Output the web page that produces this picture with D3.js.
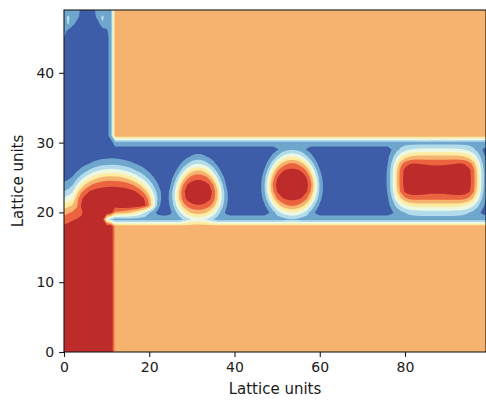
<!DOCTYPE html>
<html lang="en">
<head>
<meta charset="UTF-8">
<title>Droplet break-up at a T-junction</title>
<style>
  body { margin: 0; background: #fff; }
  svg { display: block; font-family: "DejaVu Sans", sans-serif; }
  .axis-label { font-size: 15px; fill: #1a1a1a; }
</style>
</head>
<body>
<svg width="486" height="403"></svg>
<script src="https://d3js.org/d3.v7.min.js"></script>
<script>
// lattice size and axes
const nx = 100, ny = 50;
const xTicks = [0, 20, 40, 60, 80];
const yTicks = [0, 10, 20, 30, 40];

// contour levels of the order parameter and the colour of each band (RdYlBu, red = dispersed phase)
const levels = [-1, -0.75, -0.5, -0.25, 0, 0.25, 0.5, 0.75, 1];
const bandColors = ["#3e5da8", "#6ea6cd", "#b2dceb", "#ecf8e3", "#feeca2", "#f5b36f", "#ec643f", "#bd2b2b"];

// channel geometry (lattice nodes)
const sideChannelWidth = 12;       // vertical channel = columns 0..11
const mainChannelRows = [19, 30];  // fluid rows of the horizontal channel
const wallValue = 0.4;
const filmValues = [-0.62, -0.85]; // first / second fluid layer next to a wall

// dispersed thread coming up the vertical channel: interface height at x = 0 and x = 11
const threadTop = [21.3, 24.5];
const threadWidth = 3.0;

// tongue being pinched off at the junction
const tongueCentre = [11, 21.2];
const tongueAxes = [9, 10, 4.5, 6, 1.6]; // left, right, top, bottom-left, bottom-right
const tongueWidth = [2.0, 0.8];          // interface width on top / under the tip

// released droplets
const dropX = [31.5, 53.5, 87.5];
const dropY = [22.9, 24.0, 24.7];
const dropA = [5.05, 5.5, 9.9];
const dropB = [3.6, 4.0, 4.2];
const dropPower = [2, 2, 3.5];
const dropWidth = [1.8, 1.7, 1.9];
const dropSkew = [0.12, 0.05, 0];
const dropWaist = [0, 0, 0.06];

// top inlet, rows y = 49 .. 45, columns x = 0 .. 11
const inletRows = [
  [-0.62, -0.64, -0.62, -0.62, -0.8, -0.95, -0.95, -0.8, -0.62, -0.64, -0.62, -0.62],
  [-0.58, -0.45, -0.6, -0.66, -0.85, -0.97, -0.97, -0.85, -0.64, -0.45, -0.58, -0.62],
  [-0.6, -0.48, -0.66, -0.85, -0.97, -1, -1, -0.97, -0.88, -0.52, -0.62, -0.62],
  [-0.66, -0.82, -0.97, -1, -1, -1, -1, -1, -1, -0.95, -0.8, -0.62],
  [-0.74, -0.92, -1, -1, -1, -1, -1, -1, -1, -1, -0.85, -0.62]
];
const cornerNodes = [[10, 19, -0.1], [11, 19, -0.45]];

const svg = d3.select("svg");
const margin = { left: 64, top: 10, right: 0, bottom: 51 };
const width = +svg.attr("width") - margin.left - margin.right;
const height = +svg.attr("height") - margin.top - margin.bottom;

const xScale = d3.scaleLinear().domain([0, nx - 1]).range([margin.left, margin.left + width]);
const yScale = d3.scaleLinear().domain([0, ny - 1]).range([margin.top + height, margin.top]);

// ---- field ----
const isSolid = (i, j) => i >= sideChannelWidth && (j < mainChannelRows[0] || j > mainChannelRows[1]);

function solidWithin(i, j, n) {
  for (let di = -n; di <= n; di++) {
    for (let dj = -n; dj <= n; dj++) {
      if (Math.abs(di) + Math.abs(dj) > n) continue;
      const a = i + di, b = j + dj;
      if (a < 0 || a >= nx || b < 0 || b >= ny) continue;
      if (isSolid(a, b)) return true;
    }
  }
  return false;
}

// approximate signed distance to a super-ellipse
function shapeDistance(dx, dy, a, b, p) {
  const u = Math.abs(dx) / a, v = Math.abs(dy) / b;
  const r = Math.pow(Math.pow(u, p) + Math.pow(v, p), 1 / p);
  if (r < 1e-6) return -Math.min(a, b);
  const k = Math.pow(r, 1 - p);
  const g = Math.hypot(k * Math.pow(u, p - 1) / a, k * Math.pow(v, p - 1) / b);
  return (r - 1) / g;
}

function dropPhase(k, x, y) {
  const dx = x - dropX[k], dy = y - dropY[k];
  const a = dropA[k] * (1 - dropSkew[k] * Math.max(-1, Math.min(1, dy / dropB[k])));
  const u = Math.min(1, Math.abs(dx) / a);
  const b = dropB[k] * (1 - dropWaist[k] * (1 - u * u));
  return Math.tanh(-shapeDistance(dx, dy, a, b, dropPower[k]) / dropWidth[k]);
}

function tonguePhase(x, y) {
  const dx = x - tongueCentre[0], dy = y - tongueCentre[1];
  const left = dx < 0;
  const a = left ? tongueAxes[0] : tongueAxes[1];
  const b = dy >= 0 ? tongueAxes[2] : (left ? tongueAxes[3] : tongueAxes[4]);
  const t = left ? 1 : Math.max(0, Math.min(1, (dy + 1) / 2));
  const w = tongueWidth[1] + (tongueWidth[0] - tongueWidth[1]) * t;
  return Math.tanh(-shapeDistance(dx, dy, a, b, 2) / w);
}

// sloping interface of the thread, measured across the slope
function threadPhase(x, y) {
  const slope = (threadTop[1] - threadTop[0]) / (sideChannelWidth - 1);
  const top = threadTop[0] + slope * x;
  return Math.tanh((top - y) / Math.hypot(1, slope) / threadWidth);
}

const values = new Float64Array(nx * ny);
for (let j = 0; j < ny; j++) {
  for (let i = 0; i < nx; i++) {
    let phi;
    if (isSolid(i, j)) {
      phi = wallValue;
    } else {
      phi = -1;
      if (i < sideChannelWidth) phi = Math.max(phi, threadPhase(i, j));
      phi = Math.max(phi, tonguePhase(i, j));
      dropX.forEach((_, k) => { phi = Math.max(phi, dropPhase(k, i, j)); });
      if (solidWithin(i, j, 1)) phi = Math.max(phi, filmValues[0]);
      else if (solidWithin(i, j, 2)) phi = Math.max(phi, filmValues[1]);
    }
    values[j * nx + i] = phi;
  }
}
inletRows.forEach((row, r) => {
  row.forEach((v, i) => { values[(ny - 1 - r) * nx + i] = v; });
});
cornerNodes.forEach(([i, j, v]) => { values[j * nx + i] = v; });

// ---- draw ----
svg.append("clipPath").attr("id", "plot-clip")
  .append("rect")
  .attr("x", margin.left).attr("y", margin.top)
  .attr("width", width).attr("height", height);

const plot = svg.append("g").attr("clip-path", "url(#plot-clip)");

plot.append("rect")
  .attr("x", margin.left).attr("y", margin.top)
  .attr("width", width).attr("height", height)
  .attr("fill", bandColors[0]);

const contours = d3.contours()
  .size([nx, ny])
  .thresholds(levels.slice(1, -1))(values);

// contour coordinates put sample i at i + 0.5
const path = d3.geoPath(d3.geoTransform({
  point(x, y) { this.stream.point(xScale(x - 0.5), yScale(y - 0.5)); }
}));

plot.selectAll("path.band")
  .data(contours)
  .join("path")
  .attr("class", "band")
  .attr("d", path)
  .attr("fill", (d, k) => bandColors[k + 1]);

// axes
const xAxis = svg.append("g")
  .attr("transform", `translate(0,${margin.top + height})`)
  .call(d3.axisBottom(xScale).tickValues(xTicks).tickSize(4.9).tickPadding(4.9));
const yAxis = svg.append("g")
  .attr("transform", `translate(${margin.left},0)`)
  .call(d3.axisLeft(yScale).tickValues(yTicks).tickSize(4.9).tickPadding(4.9));

[xAxis, yAxis].forEach(ax => {
  ax.attr("font-family", null).attr("font-size", null);
  ax.select(".domain").remove();
  ax.selectAll(".tick line").attr("stroke", "#1a1a1a").attr("stroke-width", 1.1);
  ax.selectAll(".tick text").attr("fill", "#1a1a1a").style("font-size", "14px");
});

svg.append("rect")
  .attr("x", margin.left).attr("y", margin.top)
  .attr("width", width).attr("height", height)
  .attr("fill", "none")
  .attr("stroke", "#1a1a1a")
  .attr("stroke-width", 1.1);

svg.append("text")
  .attr("class", "axis-label")
  .attr("x", margin.left + width / 2)
  .attr("y", 394)
  .attr("text-anchor", "middle")
  .text("Lattice units");

svg.append("text")
  .attr("class", "axis-label")
  .attr("transform", `translate(23,${margin.top + height / 2}) rotate(-90)`)
  .attr("text-anchor", "middle")
  .text("Lattice units");
</script>
</body>
</html>
